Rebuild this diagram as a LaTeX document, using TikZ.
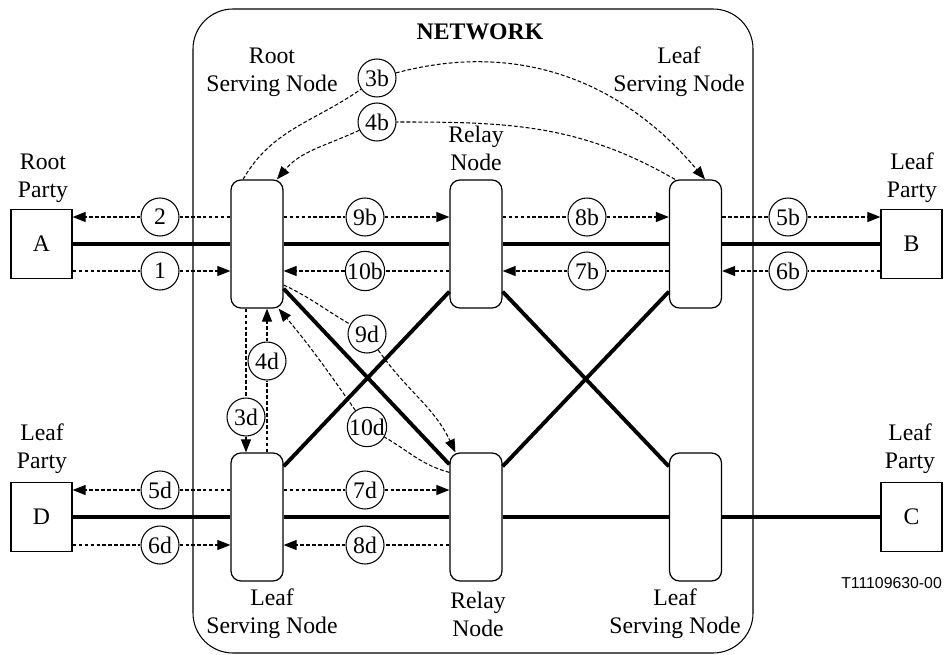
\documentclass[tikz,border=0pt]{standalone}
\usepackage{fontspec}
\setmainfont{Liberation Serif}
\setsansfont{Liberation Sans}
\usetikzlibrary{arrows.meta}

\begin{document}
\begin{tikzpicture}[x=0.02cm, y=-0.02cm, font=\fontsize{13.5}{16}\selectfont,
    srv/.style={draw, line width=0.7pt, fill=white, rounded corners=0.2cm, minimum width=1.04cm, minimum height=2.56cm, inner sep=0pt},
    party/.style={draw, line width=0.7pt, fill=white, minimum width=1.22cm, minimum height=1.38cm, inner sep=0pt},
    lbl/.style={align=center, inner sep=0pt},
    num/.style={circle, draw, solid, line width=0.6pt, fill=white, inner sep=0pt, minimum size=0.76cm},
    sig/.style={line width=0.6pt, dash pattern=on 2.2pt off 1.2pt, -{Triangle[length=0.26cm, width=0.2cm]}},
    link/.style={line width=2.2pt}]
      \useasboundingbox (0,0) rectangle (949,655);
      % network cloud, drawn first so everything else sits on top
      \draw[line width=0.6pt, rounded corners=0.8cm] (193,9) rectangle (753,653);
      \node[font=\fontsize{13.5}{16}\selectfont\bfseries] (net) at (480,32) {NETWORK};
      \node[party] (A) at (41.5,244) {A};
      \node[party] (B) at (911.5,244) {B};
      \node[party] (D) at (41.5,517) {D};
      \node[party] (C) at (911.5,517) {C};
      \node[srv] (rs) at (257,244) {};
      \node[srv] (rt) at (476,244) {};
      \node[srv] (lt) at (695.5,244) {};
      \node[srv] (ls) at (257,517) {};
      \node[srv] (rb) at (476,517) {};
      \node[srv] (lb) at (695.5,517) {};
      \draw[link] (A) -- (rs) -- (rt) -- (lt) -- (B);
      \draw[link] (D) -- (ls) -- (rb) -- (lb) -- (C);
      \draw[link] ([yshift=0.4cm]rs.south east) -- ([yshift=-0.24cm]rb.north west);
      \draw[link] ([yshift=-0.28cm]ls.north east) -- ([yshift=0.34cm]rt.south west);
      \draw[link] ([yshift=0.34cm]rt.south east) -- ([yshift=-0.28cm]lb.north west);
      \draw[link] ([yshift=-0.28cm]rb.north east) -- ([yshift=0.34cm]lt.south west);
      \node[lbl] (lrs) at (272,72) {Root\\Serving Node};
      \node[lbl] (lrt) at (476,148) {Relay\\Node};
      \node[lbl] (llt) at (679,72) {Leaf\\Serving Node};
      \node[lbl] (lls) at (272,614) {Leaf\\Serving Node};
      \node[lbl] (lrb) at (478,614) {Relay\\Node};
      \node[lbl] (llb) at (675,614) {Leaf\\Serving Node};
      \node[lbl] (lA) at (43,178) {Root\\Party};
      \node[lbl] (lB) at (912,178) {Leaf\\Party};
      \node[lbl] (lD) at (42,449) {Leaf\\Party};
      \node[lbl] (lC) at (910,449) {Leaf\\Party};
      \node[font=\sffamily\fontsize{9}{11}\selectfont, anchor=east] (ref) at (948,583) {T11109630-00};
      \node[num] (n2) at (160,217) {2};
      \node[num] (n1) at (160,271) {1};
      \node[num] (n9b) at (365,217) {9b};
      \node[num] (n10b) at (365,271) {10b};
      \node[num] (n8b) at (587,217) {8b};
      \node[num] (n7b) at (587,271) {7b};
      \node[num] (n5b) at (788,217) {5b};
      \node[num] (n6b) at (788,271) {6b};
      \node[num] (n5d) at (160,490) {5d};
      \node[num] (n6d) at (160,545) {6d};
      \node[num] (n7d) at (365,490) {7d};
      \node[num] (n8d) at (365,545) {8d};
      \node[num] (n3d) at (246,417) {3d};
      \node[num] (n4d) at (267,361) {4d};
      \node[num] (n9d) at (367,334) {9d};
      \node[num] (n10d) at (367,427) {10d};
      \node[num] (n3b) at (377,78) {3b};
      \node[num] (n4b) at (377,122) {4b};
      \draw[sig] (rs.west |- n2) -- (n2) -- (n2 -| A.east);
      \draw[sig] (n1 -| A.east) -- (n1) -- (rs.west |- n1);
      \draw[sig] (rs.east |- n9b) -- (n9b) -- (rt.west |- n9b);
      \draw[sig] (rt.west |- n10b) -- (n10b) -- (rs.east |- n10b);
      \draw[sig] (rt.east |- n8b) -- (n8b) -- (lt.west |- n8b);
      \draw[sig] (lt.west |- n7b) -- (n7b) -- (rt.east |- n7b);
      \draw[sig] (lt.east |- n5b) -- (n5b) -- (B.west |- n5b);
      \draw[sig] (B.west |- n6b) -- (n6b) -- (lt.east |- n6b);
      \draw[sig] (ls.west |- n5d) -- (n5d) -- (D.east |- n5d);
      \draw[sig] (D.east |- n6d) -- (n6d) -- (ls.west |- n6d);
      \draw[sig] (ls.east |- n7d) -- (n7d) -- (rb.west |- n7d);
      \draw[sig] (rb.west |- n8d) -- (n8d) -- (ls.east |- n8d);
      \draw[sig] (n3d |- rs.south) -- (n3d) -- (n3d |- ls.north);
      \draw[sig] (n4d |- ls.north) -- (n4d) -- (n4d |- rs.south);
      \draw[sig] ([xshift=-0.28cm]rs.north) to[out=60,in=215] (n3b) to[out=15,in=130] ([xshift=0.19cm]lt.north);
      \draw[sig] ([xshift=-0.41cm]lt.north) to[out=150,in=0] (n4b) to[out=205,in=50] ([xshift=0.4cm]rs.north);
      \draw[sig] ([yshift=-0.82cm]rs.east) to[out=-25,in=150] (n9d) to[out=-55,in=115] ([xshift=0.12cm]rb.north west);
      \draw[sig] ([yshift=-0.4cm]rb.north west) to[out=165,in=-30] (n10d) to[out=125,in=-50] ([xshift=-0.1cm]rs.south east);
    \end{tikzpicture}
\end{document}
